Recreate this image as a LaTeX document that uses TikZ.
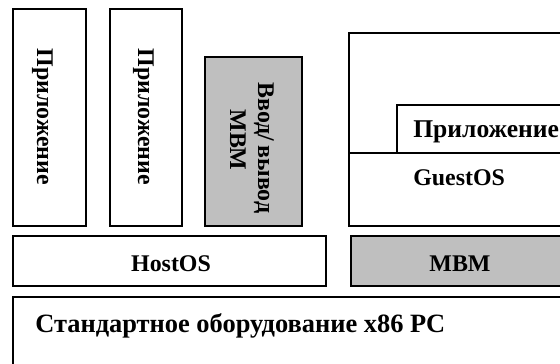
\documentclass[tikz,border=0pt]{standalone}
\usepackage{fontspec}
\setmainfont{Liberation Serif}

\tikzset{
    blk/.style={draw, line width=1.2pt},
    vmm/.style={blk, fill=gray!50},
    lbl/.style={font=\bfseries\fontsize{17}{20}\selectfont, inner sep=0pt},
    biglbl/.style={lbl, font=\bfseries\fontsize{18.8}{22}\selectfont}
}

\begin{document}
\begin{tikzpicture}
    \useasboundingbox (0,0) rectangle (14,9.1);
    \clip (0,0) rectangle (14,9.1);

    % Host applications
    \draw[blk] (0.325,3.45) rectangle (2.15,8.875);
    \draw[blk] (2.75,3.45) rectangle (4.55,8.875);
    \node[lbl, rotate=-90, anchor=base] (app1) at (0.925,6.175) {Приложение};
    \node[lbl, rotate=-90, anchor=base] (app2) at (3.45,6.175) {Приложение};

    % I/O part of the monitor
    \draw[vmm] (5.125,3.45) rectangle (7.55,7.675);
    \node[lbl, rotate=-90, anchor=base] (io) at (6.45,5.4) {Ввод/\,вывод};
    \node[lbl, rotate=-90, anchor=base] (iovmm) at (5.75,5.6) {МВМ};

    % Virtual machine
    \draw[blk] (8.725,3.45) rectangle (14.225,8.275);
    \draw[blk] (8.725,5.275) -- (14.225,5.275);
    \draw[blk] (9.925,5.275) rectangle (14.225,6.475);
    \node[lbl, font=\bfseries\fontsize{18.2}{22}\selectfont, anchor=base west] (guestapp) at (10.325,5.65) {Приложение};
    \node[lbl, anchor=base west] (guestos) at (10.325,4.45) {GuestOS};

    % Host OS and monitor
    \draw[blk] (0.325,1.95) rectangle (8.15,3.2);
    \draw[vmm] (8.775,1.95) rectangle (14.225,3.2);
    \node[lbl, anchor=base] (hostos) at (4.275,2.31) {HostOS};
    \node[lbl, anchor=base] (vmm) at (11.5,2.3) {МВМ};

    % Hardware
    \draw[blk] (0.325,-0.65) rectangle (14.225,1.675);
    \node[biglbl, anchor=base west] (hw) at (0.875,0.775) {Стандартное оборудование x86 PC};
\end{tikzpicture}
\end{document}
